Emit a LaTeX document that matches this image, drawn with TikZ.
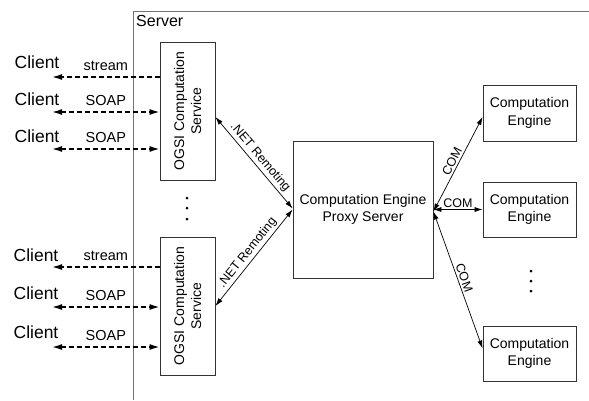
\documentclass[tikz,border=0pt]{standalone}
\usepackage{fontspec}
\setmainfont{Liberation Sans}
\usetikzlibrary{calc}
\usetikzlibrary{arrows.meta}

\begin{document}
\begin{tikzpicture}[x=1pt,y=-1pt]
            \tikzstyle{box} = [draw=black!80, line width=0.8pt, inner sep=0pt, align=center, font=\fontsize{14}{17.5}\selectfont]
            \tikzstyle{client} = [font=\fontsize{17.5}{20}\selectfont]
            \tikzstyle{wire} = [line width=1.5pt, dash pattern=on 5pt off 3pt]
            \tikzstyle{proto} = [above=4pt, inner sep=2pt, font=\fontsize{14.5}{16}\selectfont]
            \tikzstyle{link} = [line width=0.7pt, {Latex[length=8pt,width=5pt]}-{Latex[length=8pt,width=5pt]}]
            \tikzstyle{tag} = [sloped, above, inner sep=2pt, font=\fontsize{12.5}{14}\selectfont]
            \useasboundingbox (0,0) rectangle (589,400);

            \draw [black!55, line width=1pt] (133,400) -- (133,11) -- (589,11);
            \node (srv) [anchor=west, inner sep=0pt, font=\fontsize{16}{18}\selectfont] at (136,21) {Server};

            \node (ogsiA) [box, minimum width=55pt, minimum height=138pt] at (187.5,111) {};
            \node [rotate=90, align=center, font=\fontsize{14}{17}\selectfont] at (ogsiA) {OGSI Computation\\Service};
            \node (ogsiB) [box, minimum width=55pt, minimum height=138pt] at (187.5,306) {};
            \node [rotate=90, align=center, font=\fontsize{14}{17}\selectfont] at (ogsiB) {OGSI Computation\\Service};
            \foreach \y in {198,208,219} \fill (187,\y) circle (1.5pt);

            \node (proxy) [box, minimum width=140pt, minimum height=137pt] at (363,209.5) {Computation Engine\\Proxy Server};

            \node (eng1) [box, minimum width=93pt, minimum height=56pt] at (529.5,113) {Computation\\Engine};
            \node (eng2) [box, minimum width=93pt, minimum height=55pt] at (529.5,209.5) {Computation\\Engine};
            \node (eng3) [box, minimum width=93pt, minimum height=55pt] at (529.5,353.5) {Computation\\Engine};
            \foreach \y in {271,281,291} \fill (531,\y) circle (1.5pt);

            % clients of the first service
            \node (cA1) [client] at (37,62) {Client};
            \node (cA2) [client] at (37,99) {Client};
            \node (cA3) [client] at (37,136) {Client};
            \coordinate (pA1) at (52,77);
            \coordinate (pA2) at (52,112);
            \coordinate (pA3) at (52,149);
            \draw [wire, -{Latex[length=10pt,width=6pt]}] (ogsiA.west |- pA1) -- (pA1) node [midway, proto] {stream};
            \draw [wire, {Latex[length=10pt,width=6pt]}-{Latex[length=10pt,width=6pt]}] (pA2) -- (ogsiA.west |- pA2) node [midway, proto] {SOAP};
            \draw [wire, {Latex[length=10pt,width=6pt]}-{Latex[length=10pt,width=6pt]}] (pA3) -- (ogsiA.west |- pA3) node [midway, proto] {SOAP};

            % clients of the second service
            \node (cB1) [client] at (36,255) {Client};
            \node (cB2) [client] at (36,293) {Client};
            \node (cB3) [client] at (36,332) {Client};
            \coordinate (pB1) at (52,267);
            \coordinate (pB2) at (52,307);
            \coordinate (pB3) at (52,347);
            \draw [wire, -{Latex[length=10pt,width=6pt]}] (ogsiB.west |- pB1) -- (pB1) node [midway, proto] {stream};
            \draw [wire, {Latex[length=10pt,width=6pt]}-{Latex[length=10pt,width=6pt]}] (pB2) -- (ogsiB.west |- pB2) node [midway, proto] {SOAP};
            \draw [wire, {Latex[length=10pt,width=6pt]}-{Latex[length=10pt,width=6pt]}] (pB3) -- (ogsiB.west |- pB3) node [midway, proto] {SOAP};

            \draw [link] ($(ogsiA.east)+(0,6)$) -- ($(proxy.west)+(0,-1)$) node [midway, tag] {.NET Remoting};
            \draw [link] (ogsiB.east) -- (proxy.west) node [midway, tag] {.NET Remoting};

            \draw [link] ($(proxy.east)+(0,2)$) -- ($(eng1.west)+(0,4)$) node [midway, tag] {COM};
            \draw [link] (proxy.east) -- (eng2.west) node [midway, tag] {COM};
            \draw [link] ($(proxy.east)+(0,2)$) -- ($(eng3.west)+(0,-5)$) node [midway, tag] {COM};
\end{tikzpicture}
\end{document}
